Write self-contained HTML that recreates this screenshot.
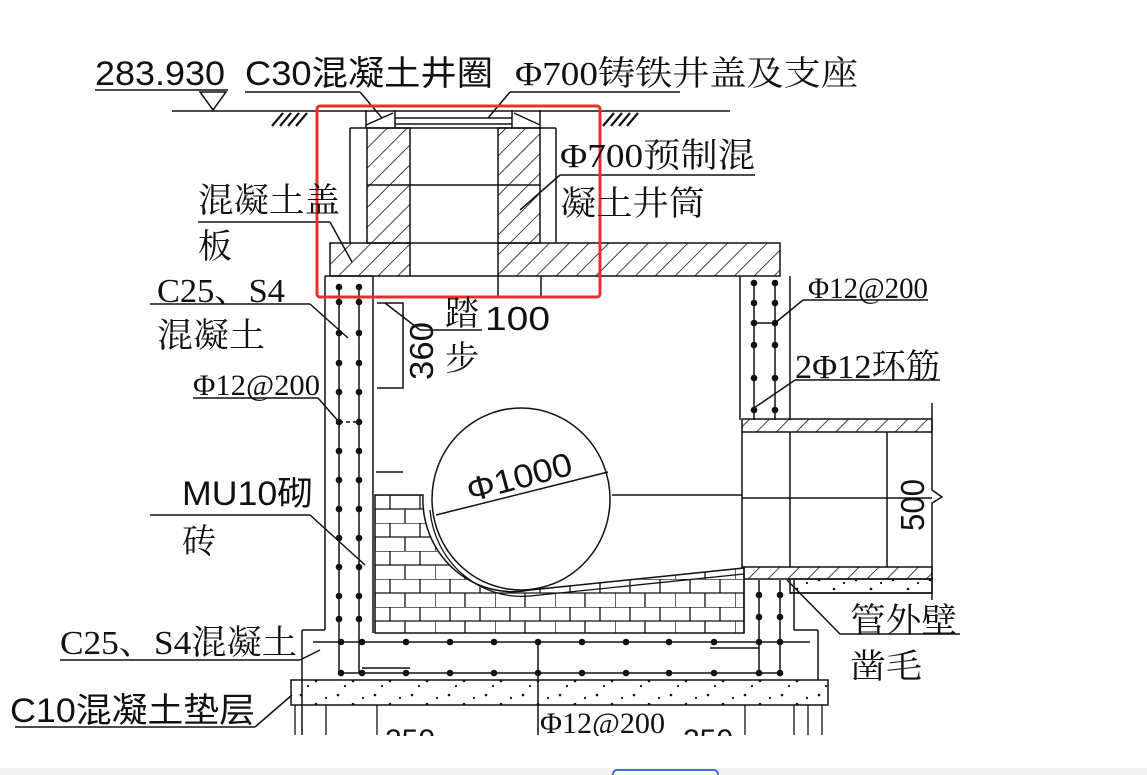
<!DOCTYPE html>
<html><head><meta charset="utf-8"><style>
html,body{margin:0;padding:0;background:#fff;}
svg{display:block;}
.s{font-family:"Liberation Sans","Noto Sans CJK SC",sans-serif;}
.r{font-family:"Liberation Serif","Noto Serif CJK SC",serif;}
</style></head><body>
<svg width="1147" height="775" viewBox="0 0 1147 775" xmlns="http://www.w3.org/2000/svg">
<defs>
<pattern id="h" width="14" height="14" patternUnits="userSpaceOnUse" patternTransform="rotate(45)">
<line x1="0" y1="0" x2="0" y2="14" stroke="#111" stroke-width="1.6"/>
</pattern>
<pattern id="d" width="37" height="23" patternUnits="userSpaceOnUse">
<circle cx="5" cy="5" r="1.3" fill="#111"/><circle cx="20" cy="14" r="1.3" fill="#111"/><circle cx="30" cy="8" r="1.1" fill="#111"/><circle cx="12" cy="19" r="1.1" fill="#111"/>
</pattern>
<pattern id="b" width="60" height="28" patternUnits="userSpaceOnUse" x="375" y="495">
<rect width="60" height="28" fill="#fff"/>
<line x1="0" y1="0" x2="60" y2="0" stroke="#111" stroke-width="1.3"/>
<line x1="0" y1="14" x2="60" y2="14" stroke="#111" stroke-width="1.3"/>
<line x1="15" y1="0" x2="15" y2="14" stroke="#111" stroke-width="1.3"/>
<line x1="45" y1="0" x2="45" y2="14" stroke="#111" stroke-width="1.3"/>
<line x1="0" y1="14" x2="0" y2="28" stroke="#111" stroke-width="1.3"/>
<line x1="30" y1="14" x2="30" y2="28" stroke="#111" stroke-width="1.3"/>
</pattern>
</defs>
<g stroke="#111" fill="none" stroke-width="1.5">
<line x1="95" y1="90" x2="228" y2="90"/>
<path d="M200 92 L226 92 L213 110 Z"/>
<line x1="172" y1="111" x2="730" y2="111"/>
<line x1="245" y1="92" x2="360" y2="92"/><line x1="360" y1="92" x2="382" y2="118"/>
<line x1="510" y1="92" x2="680" y2="92"/><line x1="510" y1="92" x2="488" y2="118"/>
<g stroke-width="2.2"><line x1="272" y1="126" x2="283" y2="113"/><line x1="280" y1="126" x2="291" y2="113"/><line x1="288" y1="126" x2="299" y2="113"/><line x1="296" y1="126" x2="307" y2="113"/>
<line x1="603" y1="126" x2="614" y2="113"/><line x1="611" y1="126" x2="622" y2="113"/><line x1="619" y1="126" x2="630" y2="113"/><line x1="627" y1="126" x2="638" y2="113"/></g>
<line x1="366" y1="110" x2="366" y2="128"/><line x1="395" y1="110" x2="395" y2="128"/>
<line x1="512" y1="110" x2="512" y2="128"/><line x1="540" y1="110" x2="540" y2="128"/>
<path d="M366 125 L393 113 M514 113 L540 125"/>
<line x1="395" y1="118" x2="512" y2="118"/><line x1="395" y1="124" x2="512" y2="124"/>
<line x1="350" y1="128" x2="556" y2="128"/>
<line x1="350" y1="128" x2="350" y2="243"/><line x1="556" y1="128" x2="556" y2="243"/>
<rect x="367" y="128" width="43" height="115" fill="url(#h)"/>
<rect x="498" y="128" width="42" height="115" fill="url(#h)"/>
<line x1="367" y1="185" x2="540" y2="185"/>
<path d="M330 243 H410 V276 H330 Z" fill="url(#h)"/>
<path d="M498 243 H780 V276 H498 Z" fill="url(#h)"/>
<line x1="410" y1="243" x2="498" y2="243"/><line x1="410" y1="276" x2="498" y2="276"/>
<line x1="498" y1="276" x2="498" y2="298"/><line x1="541" y1="276" x2="541" y2="298"/>
<line x1="325" y1="276" x2="325" y2="630"/><line x1="373" y1="276" x2="373" y2="633"/>
<line x1="325" y1="276" x2="373" y2="276"/>
<line x1="325" y1="630" x2="302" y2="630"/><line x1="302" y1="630" x2="302" y2="735"/>
<line x1="339" y1="287" x2="339" y2="673"/><line x1="359" y1="287" x2="359" y2="673"/>
<line x1="339" y1="422" x2="359" y2="422" stroke-dasharray="4 3"/>
<line x1="376" y1="472" x2="403" y2="472"/>
<path d="M377 303 H403 V388 H377"/>
<line x1="385" y1="303" x2="420" y2="330"/>
<line x1="420" y1="330" x2="482" y2="330"/>
<line x1="740" y1="276" x2="740" y2="420"/><line x1="790" y1="276" x2="790" y2="420"/>
<line x1="754" y1="283" x2="754" y2="420"/><line x1="775" y1="283" x2="775" y2="420"/>
<line x1="754" y1="323" x2="775" y2="323"/>
<rect x="742" y="419" width="190" height="13" fill="url(#h)"/>
<rect x="742" y="567" width="190" height="12" fill="url(#h)"/>
<rect x="790" y="579" width="142" height="14" fill="url(#d)"/>
<line x1="790" y1="593" x2="932" y2="593"/>
<line x1="742" y1="432" x2="742" y2="567"/>
<line x1="790" y1="432" x2="790" y2="567"/>
<line x1="887" y1="432" x2="887" y2="567"/>
<path d="M932 403 V490 L942 497 L932 503 V600"/>
<line x1="612" y1="495" x2="742" y2="495"/><line x1="742" y1="498" x2="932" y2="498"/>
<path d="M375 495 H423 A90 92 0 0 0 530 590 L744 568 V633 H375 Z" fill="url(#b)"/>
<path d="M430 510 A92 95 0 0 0 530 596 L744 574" stroke-width="1.3"/>
<ellipse cx="521" cy="499" rx="89" ry="91" fill="#fff"/>
<line x1="436" y1="515" x2="608" y2="472"/>
<line x1="744" y1="568" x2="744" y2="633"/>
<line x1="759" y1="580" x2="759" y2="673"/><line x1="780" y1="580" x2="780" y2="673"/>
<line x1="794" y1="580" x2="794" y2="630"/><line x1="794" y1="630" x2="818" y2="630"/><line x1="818" y1="630" x2="818" y2="680"/>
<line x1="313" y1="642" x2="810" y2="642"/>
<line x1="339" y1="673" x2="780" y2="673"/>
<line x1="362" y1="668" x2="410" y2="668"/>
<line x1="710" y1="648" x2="759" y2="648"/>
<line x1="538" y1="642" x2="538" y2="735"/>
<rect x="291" y="680" width="537" height="25" fill="url(#d)"/>
<g stroke-width="1.3"><line x1="295" y1="705" x2="295" y2="735"/><line x1="326" y1="705" x2="326" y2="735"/><line x1="377" y1="705" x2="377" y2="735"/><line x1="745" y1="705" x2="745" y2="735"/><line x1="794" y1="705" x2="794" y2="735"/><line x1="808" y1="705" x2="808" y2="735"/><line x1="822" y1="705" x2="822" y2="735"/></g>
<line x1="198" y1="222" x2="330" y2="222"/><line x1="330" y1="222" x2="352" y2="262"/>
<line x1="150" y1="304" x2="310" y2="304"/><line x1="310" y1="304" x2="348" y2="338"/>
<line x1="193" y1="398" x2="318" y2="398"/><line x1="318" y1="398" x2="339" y2="422"/>
<line x1="150" y1="515" x2="310" y2="515"/><line x1="310" y1="515" x2="365" y2="565"/>
<line x1="60" y1="660" x2="300" y2="660"/><line x1="300" y1="660" x2="320" y2="650"/>
<line x1="15" y1="727" x2="255" y2="727"/><line x1="255" y1="727" x2="292" y2="695"/>
<line x1="560" y1="175" x2="755" y2="175"/><line x1="560" y1="175" x2="520" y2="210"/>
<line x1="803" y1="300" x2="928" y2="300"/><line x1="803" y1="300" x2="775" y2="323"/>
<line x1="795" y1="380" x2="940" y2="380"/><line x1="795" y1="380" x2="754" y2="408"/>
<line x1="840" y1="634" x2="960" y2="634"/><line x1="840" y1="634" x2="787" y2="580"/>
</g>
<g fill="#111">
<circle cx="339" cy="287" r="3.3"/><circle cx="359" cy="287" r="3.3"/>
<circle cx="339" cy="302" r="3.3"/><circle cx="359" cy="302" r="3.3"/>
<circle cx="339" cy="333" r="3.3"/><circle cx="359" cy="333" r="3.3"/>
<circle cx="339" cy="363" r="3.3"/><circle cx="359" cy="363" r="3.3"/>
<circle cx="339" cy="392" r="3.3"/><circle cx="359" cy="392" r="3.3"/>
<circle cx="339" cy="422" r="3.3"/><circle cx="359" cy="422" r="3.3"/>
<circle cx="339" cy="451" r="3.3"/><circle cx="359" cy="451" r="3.3"/>
<circle cx="339" cy="480" r="3.3"/><circle cx="359" cy="480" r="3.3"/>
<circle cx="339" cy="509" r="3.3"/><circle cx="359" cy="509" r="3.3"/>
<circle cx="339" cy="538" r="3.3"/><circle cx="359" cy="538" r="3.3"/>
<circle cx="339" cy="567" r="3.3"/><circle cx="359" cy="567" r="3.3"/>
<circle cx="339" cy="596" r="3.3"/><circle cx="359" cy="596" r="3.3"/>
<circle cx="339" cy="619" r="3.3"/><circle cx="359" cy="619" r="3.3"/>
<circle cx="754" cy="283" r="3.3"/><circle cx="775" cy="283" r="3.3"/>
<circle cx="754" cy="303" r="3.3"/><circle cx="775" cy="303" r="3.3"/>
<circle cx="754" cy="323" r="3.3"/><circle cx="775" cy="323" r="3.3"/>
<circle cx="754" cy="345" r="3.3"/><circle cx="775" cy="345" r="3.3"/>
<circle cx="754" cy="378" r="3.3"/><circle cx="775" cy="378" r="3.3"/>
<circle cx="754" cy="410" r="3.3"/><circle cx="775" cy="410" r="3.3"/>
<circle cx="759" cy="595" r="3.3"/><circle cx="780" cy="595" r="3.3"/>
<circle cx="759" cy="617" r="3.3"/><circle cx="780" cy="617" r="3.3"/>
<circle cx="341" cy="642" r="3.3"/><circle cx="362" cy="642" r="3.3"/><circle cx="406" cy="642" r="3.3"/><circle cx="450" cy="642" r="3.3"/><circle cx="494" cy="642" r="3.3"/><circle cx="538" cy="642" r="3.3"/><circle cx="582" cy="642" r="3.3"/><circle cx="626" cy="642" r="3.3"/><circle cx="669" cy="642" r="3.3"/><circle cx="714" cy="642" r="3.3"/><circle cx="759" cy="642" r="3.3"/><circle cx="780" cy="642" r="3.3"/>
<circle cx="341" cy="673" r="3.3"/><circle cx="362" cy="673" r="3.3"/><circle cx="406" cy="673" r="3.3"/><circle cx="450" cy="673" r="3.3"/><circle cx="494" cy="673" r="3.3"/><circle cx="538" cy="673" r="3.3"/><circle cx="582" cy="673" r="3.3"/><circle cx="626" cy="673" r="3.3"/><circle cx="669" cy="673" r="3.3"/><circle cx="714" cy="673" r="3.3"/><circle cx="759" cy="673" r="3.3"/><circle cx="780" cy="673" r="3.3"/>
</g>
<rect x="317" y="106" width="283" height="191" rx="3" fill="none" stroke="#e8302a" stroke-width="3"/>
<g fill="#111" lengthAdjust="spacingAndGlyphs">
<text x="95" y="85" class="s" font-size="34" textLength="130" lengthAdjust="spacingAndGlyphs">283.930</text>
<text x="245" y="85" class="s" font-size="34" textLength="248" lengthAdjust="spacingAndGlyphs">C30混凝土井圈</text>
<text x="515" y="85" class="r" font-size="34" textLength="343" lengthAdjust="spacingAndGlyphs">Φ700铸铁井盖及支座</text>
<text x="560" y="167" class="r" font-size="34" textLength="195" lengthAdjust="spacingAndGlyphs">Φ700预制混</text>
<text x="560" y="215" class="r" font-size="34" textLength="145" lengthAdjust="spacingAndGlyphs">凝土井筒</text>
<text x="198" y="212" class="r" font-size="34" textLength="142" lengthAdjust="spacingAndGlyphs">混凝土盖</text>
<text x="198" y="258" class="r" font-size="34">板</text>
<text x="157" y="302" class="r" font-size="34" textLength="128" lengthAdjust="spacingAndGlyphs">C25、S4</text>
<text x="157" y="347" class="r" font-size="34" textLength="108" lengthAdjust="spacingAndGlyphs">混凝土</text>
<text x="193" y="395" class="r" font-size="30" textLength="127" lengthAdjust="spacingAndGlyphs">Φ12@200</text>
<text x="182" y="505" class="s" font-size="34" textLength="131" lengthAdjust="spacingAndGlyphs">MU10砌</text>
<text x="182" y="553" class="r" font-size="34">砖</text>
<text x="60" y="654" class="r" font-size="34" textLength="237" lengthAdjust="spacingAndGlyphs">C25、S4混凝土</text>
<text x="10" y="722" class="s" font-size="34" textLength="245" lengthAdjust="spacingAndGlyphs">C10混凝土垫层</text>
<text x="808" y="298" class="r" font-size="30" textLength="120" lengthAdjust="spacingAndGlyphs">Φ12@200</text>
<text x="795" y="378" class="r" font-size="34" textLength="145" lengthAdjust="spacingAndGlyphs">2Φ12环筋</text>
<text x="850" y="632" class="r" font-size="34" textLength="107" lengthAdjust="spacingAndGlyphs">管外壁</text>
<text x="850" y="678" class="r" font-size="34" textLength="72" lengthAdjust="spacingAndGlyphs">凿毛</text>
<text x="445" y="325" class="r" font-size="34">踏</text>
<text x="445" y="370" class="r" font-size="34">步</text>
<text x="485" y="330" class="s" font-size="33" textLength="65" lengthAdjust="spacingAndGlyphs">100</text>
<text x="0" y="0" class="s" font-size="33" textLength="58" lengthAdjust="spacingAndGlyphs" transform="translate(433,380) rotate(-90)">360</text>
<text x="0" y="0" class="s" font-size="33" textLength="52" lengthAdjust="spacingAndGlyphs" transform="translate(924,531) rotate(-90)">500</text>
<text x="0" y="0" class="s" font-size="33" textLength="108" lengthAdjust="spacingAndGlyphs" transform="translate(470,502) rotate(-15)">Φ1000</text>
<text x="540" y="733" class="r" font-size="30" textLength="125" lengthAdjust="spacingAndGlyphs">Φ12@200</text>
<text x="385" y="750" class="s" font-size="30">250</text>
<text x="683" y="750" class="s" font-size="30">250</text>
</g>
<rect x="0" y="736" width="1147" height="39" fill="#fff"/>
<rect x="0" y="768" width="1147" height="7" fill="#f2f2f2"/>
<rect x="613" y="770" width="105" height="8" rx="4" fill="#fff" stroke="#3b6fe0" stroke-width="2"/>
</svg>
</body></html>
